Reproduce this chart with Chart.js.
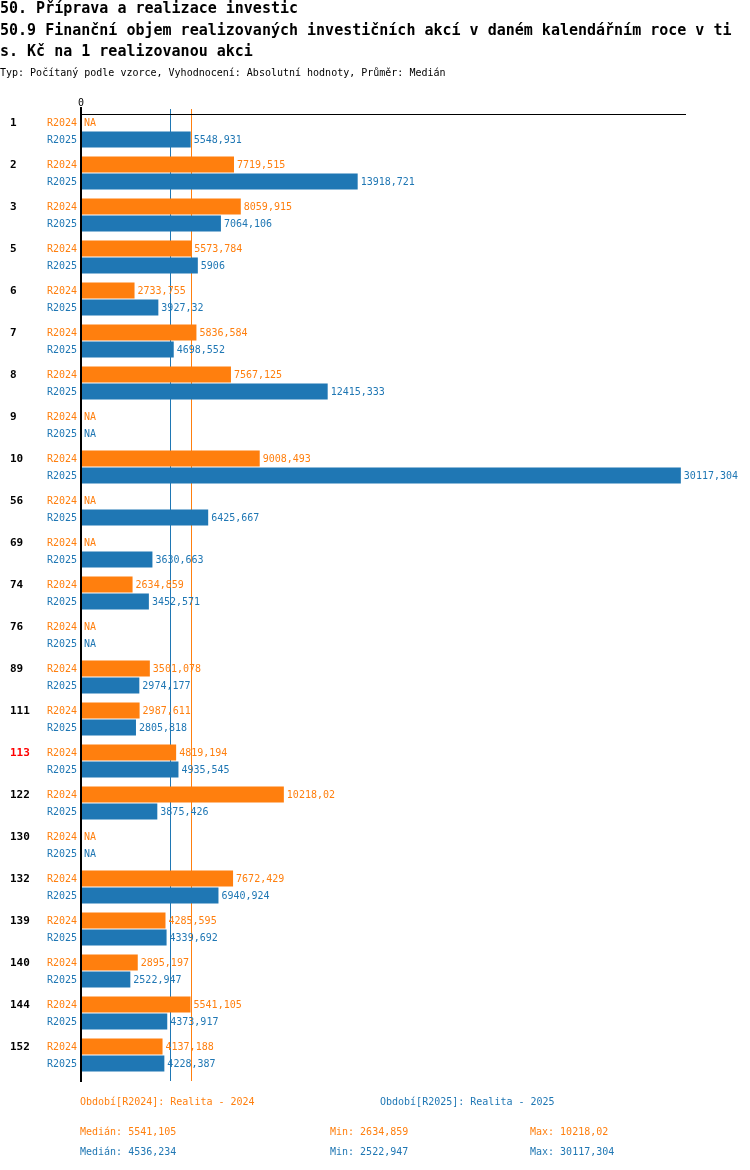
<!DOCTYPE html>
<html>
<head>
<meta charset="utf-8">
<script src="https://cdn.jsdelivr.net/npm/chart.js@4/dist/chart.umd.min.js"></script>
<style>
  html, body { margin: 0; padding: 0; background: #fff; }
  #wrap { position: relative; width: 750px; height: 1170px; overflow: hidden; }
  canvas { position: absolute; left: 0; top: 0; }
  .t { position: absolute; white-space: nowrap; font-family: "DejaVu Sans Mono", monospace; }
  .title { font-size: 15px; font-weight: bold; line-height: 20px; left: 0; color: #000; }
  .sub { font-size: 10px; line-height: 12px; left: 0; color: #000; }
  .f { font-size: 10px; line-height: 12px; }
  .o { color: #ff7f0e; }
  .b { color: #1f77b4; }
</style>
</head>
<body>
<div id="wrap">
  <canvas id="c" width="750" height="1170"></canvas>
  <div class="t title" style="top:-2px">50. Příprava a realizace investic</div>
  <div class="t title" style="top:20px">50.9 Finanční objem realizovaných investičních akcí v daném kalendářním roce v ti</div>
  <div class="t title" style="top:41px">s. Kč na 1 realizovanou akci</div>
  <div class="t sub" style="top:67px">Typ: Počítaný podle vzorce, Vyhodnocení: Absolutní hodnoty, Průměr: Medián</div>

  <div class="t f o" style="top:1096px;left:80px">Období[R2024]: Realita - 2024</div>
  <div class="t f b" style="top:1096px;left:380px">Období[R2025]: Realita - 2025</div>
  <div class="t f o" id="medA" style="top:1126px;left:80px"></div>
  <div class="t f o" id="minA" style="top:1126px;left:330px"></div>
  <div class="t f o" id="maxA" style="top:1126px;left:530px"></div>
  <div class="t f b" id="medB" style="top:1146px;left:80px"></div>
  <div class="t f b" id="minB" style="top:1146px;left:330px"></div>
  <div class="t f b" id="maxB" style="top:1146px;left:530px"></div>
</div>
<script>
const categories = ['1','2','3','5','6','7','8','9','10','56','69','74','76','89','111','113','122','130','132','139','140','144','152'];
const highlighted = ['113'];
const seriesNames = ['R2024', 'R2025'];
const r2024 = [null, 7719.515, 8059.915, 5573.784, 2733.755, 5836.584, 7567.125, null, 9008.493, null, null, 2634.859, null, 3501.078, 2987.611, 4819.194, 10218.02, null, 7672.429, 4285.595, 2895.197, 5541.105, 4137.188];
const r2025 = [5548.931, 13918.721, 7064.106, 5906, 3927.32, 4698.552, 12415.333, null, 30117.304, 6425.667, 3630.663, 3452.571, null, 2974.177, 2805.818, 4935.545, 3875.426, null, 6940.924, 4339.692, 2522.947, 4373.917, 4228.387];
const medians = [5541.105, 4536.234];
const mins = [2634.859, 2522.947];
const maxs = [10218.02, 30117.304];
const xTicks = [0];
const xMax = 30376;

const colors = ['#ff7f0e', '#1f77b4'];
const fmt = v => String(v).replace('.', ',');

document.getElementById('medA').textContent = 'Medián: ' + fmt(medians[0]);
document.getElementById('minA').textContent = 'Min: ' + fmt(mins[0]);
document.getElementById('maxA').textContent = 'Max: ' + fmt(maxs[0]);
document.getElementById('medB').textContent = 'Medián: ' + fmt(medians[1]);
document.getElementById('minB').textContent = 'Min: ' + fmt(mins[1]);
document.getElementById('maxB').textContent = 'Max: ' + fmt(maxs[1]);

const MONO = '"DejaVu Sans Mono", monospace';

const deco = {
  id: 'deco',
  beforeDatasetsDraw(chart) {
    const ctx = chart.ctx;
    const xs = chart.scales.x;
    const bottom = chart.chartArea.bottom;
    ctx.save();
    ctx.lineWidth = 1;
    medians.forEach((m, i) => {
      const x = Math.round(xs.getPixelForValue(m)) + 0.5;
      ctx.strokeStyle = colors[i];
      ctx.beginPath();
      ctx.moveTo(x, chart.chartArea.top - 1);
      ctx.lineTo(x, bottom + 5);
      ctx.stroke();
    });
    ctx.restore();
  },
  afterDatasetsDraw(chart) {
    const ctx = chart.ctx;
    const xs = chart.scales.x;
    const ys = chart.scales.y;
    const area = chart.chartArea;
    const x0 = xs.getPixelForValue(0);
    ctx.save();
    // top axis line
    ctx.fillStyle = '#000';
    ctx.fillRect(x0 + 2, area.top + 4, area.right - x0 - 2, 1);
    // left axis line
    ctx.fillRect(x0, area.top - 3, 2, area.bottom - area.top + 9);
    // tick labels
    ctx.font = '10px ' + MONO;
    ctx.textAlign = 'center';
    ctx.textBaseline = 'middle';
    xTicks.forEach(t => ctx.fillText(String(t), xs.getPixelForValue(t) + 1, area.top - 7));

    const data = [r2024, r2025];
    categories.forEach((cat, i) => {
      const c = ys.getPixelForValue(i);
      const yc = [c - 8.5, c + 8.5];
      // category label
      ctx.font = 'bold 11px ' + MONO;
      ctx.textAlign = 'left';
      ctx.fillStyle = highlighted.includes(cat) ? '#ff0000' : '#000';
      ctx.fillText(cat, 10, yc[0] + 1);
      for (let d = 0; d < 2; d++) {
        ctx.font = '10px ' + MONO;
        ctx.fillStyle = colors[d];
        ctx.textAlign = 'right';
        ctx.fillText(seriesNames[d], x0 - 3, yc[d] + 1);
        ctx.textAlign = 'left';
        const v = data[d][i];
        if (v === null) {
          ctx.fillText('NA', x0 + 4, yc[d] + 1);
        } else {
          ctx.fillText(fmt(v), xs.getPixelForValue(v) + 3, yc[d] + 1);
        }
      }
    });
    ctx.restore();
  }
};

new Chart(document.getElementById('c'), {
  type: 'bar',
  data: {
    labels: categories,
    datasets: [
      { label: seriesNames[0], data: r2024, backgroundColor: colors[0] },
      { label: seriesNames[1], data: r2025, backgroundColor: colors[1] }
    ]
  },
  options: {
    indexAxis: 'y',
    responsive: false,
    animation: false,
    devicePixelRatio: 1,
    categoryPercentage: 34 / 42,
    barPercentage: 16 / 17,
    layout: { padding: { left: 80, right: 64, top: 110, bottom: 94 } },
    scales: {
      x: { display: false, min: 0, max: xMax },
      y: { display: false }
    },
    plugins: { legend: { display: false }, tooltip: { enabled: false } }
  },
  plugins: [deco]
});
</script>
</body>
</html>
